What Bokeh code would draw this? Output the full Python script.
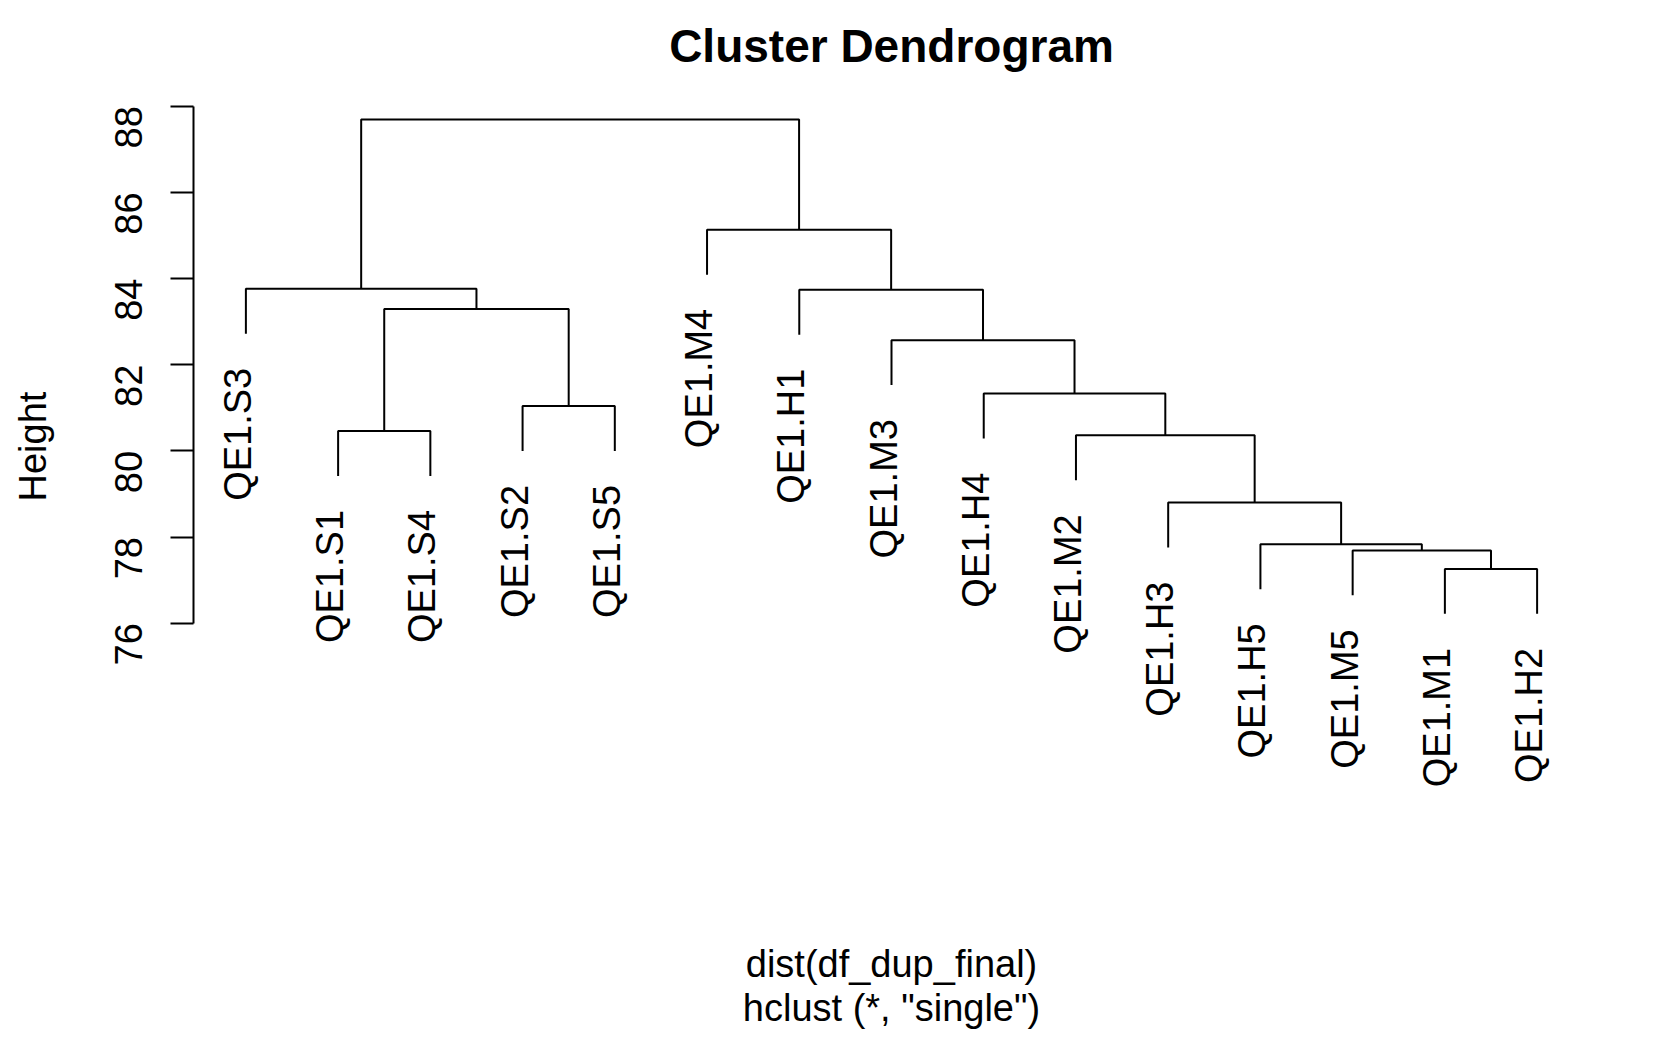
import math
from bokeh.plotting import figure
from bokeh.layouts import row
from bokeh.models import Range1d, FixedTicker, ColumnDataSource
from bokeh.core.properties import value
from bokeh.embed import file_html
from bokeh.resources import INLINE

# ---- data ----
leaf_labels = ["QE1.S3", "QE1.S1", "QE1.S4", "QE1.S2", "QE1.S5", "QE1.M4", "QE1.H1",
               "QE1.M3", "QE1.H4", "QE1.M2", "QE1.H3", "QE1.H5", "QE1.M5", "QE1.M1", "QE1.H2"]
# merges (hclust style): a string is a leaf, an integer refers to an earlier merge (1-based)
merge_a = ["QE1.M1", "QE1.M5", "QE1.H5", "QE1.H3", "QE1.M2", "QE1.S1", "QE1.S2",
           "QE1.H4", "QE1.M3", 6, "QE1.H1", "QE1.S3", "QE1.M4", 12]
merge_b = ["QE1.H2", 1, 2, 3, 4, "QE1.S4", "QE1.S5",
           5, 8, 7, 9, 10, 11, 13]
merge_height = [77.26, 77.69, 77.83, 78.80, 80.36, 80.46, 81.04,
                81.33, 82.57, 83.29, 83.74, 83.76, 85.13, 87.69]
hang_fraction = 0.1
y_ticks = [76, 78, 80, 82, 84, 86, 88]
title_text = "Cluster Dendrogram"
y_label = "Height"
sub_lines = ["dist(df_dup_final)", 'hclust (*, "single")']

FONT = "Liberation Sans"

# ---- dendrogram geometry ----
pos = {name: i + 1 for i, name in enumerate(leaf_labels)}
hang = hang_fraction * (max(merge_height) - min(merge_height))
node_x = []
xs, ys = [], []
leaf_x, leaf_y, leaf_name = [], [], []
for a, b, h in zip(merge_a, merge_b, merge_height):
    pts = []
    for c in (a, b):
        if isinstance(c, str):
            cx, cy = pos[c], h - hang
            leaf_x.append(cx)
            leaf_y.append(cy)
            leaf_name.append(c)
        else:
            cx, cy = node_x[c - 1], merge_height[c - 1]
        pts.append((cx, cy))
    (x1, y1), (x2, y2) = pts
    xs.append([x1, x1, x2, x2])
    ys.append([y1, h, h, y2])
    node_x.append((x1 + x2) / 2)

x_start, x_end = 0.432, 15.568
x_mid = (x_start + x_end) / 2
y_rng = Range1d(66.175, 90.453)

LEFT_W = 60
W, H = 1676, 1046

# ---- narrow strip holding the y-axis title ----
pl = figure(width=LEFT_W, height=H, x_range=Range1d(0, LEFT_W), y_range=y_rng,
            x_axis_type=None, y_axis_type=None, output_backend="svg",
            toolbar_location=None, title=None,
            min_border_left=0, min_border_right=0, min_border_top=0, min_border_bottom=0)
pl.outline_line_color = None
pl.grid.visible = False
pl.text(x=[32], y=[80.10], text=[y_label], angle=math.pi / 2,
        text_align="center", text_baseline="alphabetic",
        text_font=value(FONT), text_font_size="38px", text_color="black")

# ---- main dendrogram ----
p = figure(width=W - LEFT_W, height=H,
           x_range=Range1d(x_start, x_end), y_range=y_rng,
           x_axis_type=None, output_backend="svg", toolbar_location=None, title=None,
           min_border_left=193 - LEFT_W, min_border_right=87,
           min_border_top=0, min_border_bottom=0)
p.outline_line_color = None
p.ygrid.visible = False

ax = p.yaxis[0]
ax.ticker = FixedTicker(ticks=y_ticks)
ax.bounds = (min(y_ticks), max(y_ticks))
ax.axis_line_width = 2
ax.axis_line_color = "black"
ax.major_tick_line_width = 2
ax.major_tick_line_color = "black"
ax.major_tick_out = 23
ax.major_tick_in = 0
ax.minor_tick_line_color = None
ax.major_label_orientation = math.pi / 2
ax.major_label_standoff = 42
ax.major_label_text_font = FONT
ax.major_label_text_font_size = "38px"
ax.major_label_text_color = "black"

p.multi_line(xs=xs, ys=ys, line_color="black", line_width=2)

src = ColumnDataSource(dict(x=leaf_x, y=leaf_y, t=leaf_name))
p.text(x="x", y="y", text="t", source=src, angle=math.pi / 2,
       text_align="right", text_baseline="alphabetic",
       x_offset=-8, y_offset=34,
       text_font=value(FONT), text_font_size="38px", text_color="black")

p.text(x=[x_mid], y=[89.402], text=[title_text], text_align="center",
       text_baseline="alphabetic", text_font=value(FONT), text_font_size="46px",
       text_font_style="bold", text_color="black")
p.text(x=[x_mid, x_mid], y=[68.101, 67.057], text=sub_lines, text_align="center",
       text_baseline="alphabetic", text_font=value(FONT), text_font_size="38px",
       text_color="black")

layout = row(pl, p, spacing=0)
open("out.html", "w").write(file_html(layout, INLINE))
